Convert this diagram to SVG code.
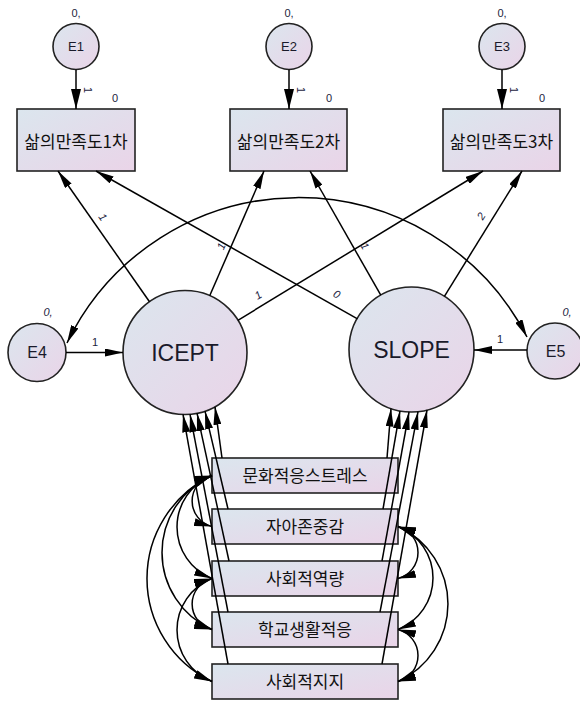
<svg xmlns="http://www.w3.org/2000/svg" width="580" height="703" viewBox="0 0 580 703">
<defs>
<linearGradient id="g" x1="0" y1="0" x2="1" y2="1">
<stop offset="0" stop-color="#dbe6ee"/>
<stop offset="1" stop-color="#ead4e8"/>
</linearGradient>
<marker id="ah" viewBox="0 0 18 8" refX="18" refY="4" markerWidth="18" markerHeight="8" markerUnits="userSpaceOnUse" orient="auto-start-reverse">
<path d="M0,0 L18,4 L0,8 z" fill="#000"/>
</marker>
<marker id="ahL" viewBox="0 0 20 10" refX="20" refY="5" markerWidth="20" markerHeight="10" markerUnits="userSpaceOnUse" orient="auto-start-reverse">
<path d="M0,0 L20,5 L0,10 z" fill="#000"/>
</marker>
</defs>
<style>
.node{fill:url(#g);stroke:#222;stroke-width:1.6}
.t{font-family:"Liberation Sans",Arial,sans-serif;fill:#1a1a2a;text-anchor:middle}
.lbl{font-family:"Liberation Sans",Arial,sans-serif;font-size:11px;fill:#1c2340;text-anchor:middle}
.it{font-style:italic}
.kr{font-family:"Noto Sans CJK KR","Noto Sans CJK SC",sans-serif;font-size:17px;fill:#111;text-anchor:middle}
.c{fill:none;stroke:#000;stroke-width:1.5}
.a{marker-end:url(#ah)}
.aL{marker-end:url(#ahL)}
.cov{marker-start:url(#ah);marker-end:url(#ah)}
</style>

<g id="E1"><circle class="node" cx="76" cy="46.5" r="23"/><text class="t" x="76" y="51" font-size="13">E1</text><text class="lbl" x="76" y="16.5">0,</text></g>
<g id="E2"><circle class="node" cx="289" cy="46.5" r="23"/><text class="t" x="289" y="51" font-size="13">E2</text><text class="lbl" x="289" y="16.5">0,</text></g>
<g id="E3"><circle class="node" cx="502" cy="46.5" r="23"/><text class="t" x="502" y="51" font-size="13">E3</text><text class="lbl" x="502" y="16.5">0,</text></g>

<g id="Y1"><rect class="node" x="17" y="109" width="118" height="62"/><text class="kr" x="76" y="148">삶의만족도1차</text><text class="lbl" x="115" y="102">0</text></g>
<g id="Y2"><rect class="node" x="230" y="109" width="117" height="62"/><text class="kr" x="288.5" y="148">삶의만족도2차</text><text class="lbl" x="329" y="102">0</text></g>
<g id="Y3"><rect class="node" x="443" y="109" width="117" height="62"/><text class="kr" x="501.5" y="148">삶의만족도3차</text><text class="lbl" x="542" y="102">0</text></g>

<g id="E4"><circle class="node" cx="37" cy="352.5" r="29"/><text class="t" x="37" y="358" font-size="16">E4</text><text class="lbl it" x="48" y="316">0,</text></g>
<g id="E5"><circle class="node" cx="555" cy="351" r="28"/><text class="t" x="555.5" y="356.5" font-size="16">E5</text><text class="lbl it" x="567" y="316">0,</text></g>

<g id="ICEPT"><circle class="node" cx="185" cy="352.5" r="62"/><text class="t" x="185" y="361" font-size="23">ICEPT</text></g>
<g id="SLOPE"><circle class="node" cx="411.5" cy="349.5" r="62.5"/><text class="t" x="411.5" y="358" font-size="23">SLOPE</text></g>

<g id="X1"><rect class="node" x="212" y="458" width="186" height="35"/><text class="kr" x="305" y="481.5">문화적응스트레스</text></g>
<g id="X2"><rect class="node" x="212" y="509" width="186" height="35"/><text class="kr" x="305" y="532.5">자아존중감</text></g>
<g id="X3"><rect class="node" x="212" y="561" width="186" height="35"/><text class="kr" x="305" y="584.5">사회적역량</text></g>
<g id="X4"><rect class="node" x="212" y="612" width="186" height="35"/><text class="kr" x="305" y="635.5">학교생활적응</text></g>
<g id="X5"><rect class="node" x="212" y="664" width="186" height="35"/><text class="kr" x="305" y="687.5">사회적지지</text></g>

<g id="connectors">
<path class="c aL" d="M76,69.5 L76,109"/>
<path class="c aL" d="M289,69.5 L289,109"/>
<path class="c aL" d="M502,69.5 L502,109"/>
<path class="c a" d="M66,352.5 L123,352.5"/>
<path class="c a" d="M527,350 L474,350"/>
<path class="c a" d="M149.5,301.7 L58,171"/>
<path class="c a" d="M209.7,295.7 L264,171"/>
<path class="c a" d="M237.9,320.3 L483,171"/>
<path class="c a" d="M357.5,318.9 L96,171"/>
<path class="c a" d="M380.8,295.2 L310,171"/>
<path class="c a" d="M444.4,296.3 L522,171"/>
<path class="c cov" d="M67,343 A257,257 0 0 1 527,337"/>

<path class="c a" d="M222,458 L215,406.8"/>
<path class="c a" d="M228,509 L205,411.2"/>
<path class="c a" d="M229,561 L197,413.2"/>
<path class="c a" d="M228,612 L190,414.3"/>
<path class="c a" d="M228,664 L183,414.4"/>

<path class="c a" d="M387,458 L391,408.5"/>
<path class="c a" d="M383,509 L400,410.9"/>
<path class="c a" d="M382,561 L409,412"/>
<path class="c a" d="M380,612 L418,411.7"/>
<path class="c a" d="M382,664 L427,410"/>

<path class="c cov" d="M212,475.5 A26.3,26.3 0 0 0 212,526.5"/>
<path class="c cov" d="M212,475.5 A55.4,55.4 0 0 0 212,578.5"/>
<path class="c cov" d="M212,475.5 A84.3,84.3 0 0 0 212,629.5"/>
<path class="c cov" d="M212,475.5 A114.1,114.1 0 0 0 212,681.5"/>
<path class="c cov" d="M212,578.5 A26.3,26.3 0 0 0 212,629.5"/>
<path class="c cov" d="M212,578.5 A55.4,55.4 0 0 0 212,681.5"/>

<path class="c cov" d="M398,526.5 A26.9,26.9 0 0 1 398,578.5"/>
<path class="c cov" d="M398,526.5 A55.4,55.4 0 0 1 398,629.5"/>
<path class="c cov" d="M398,526.5 A85.1,85.1 0 0 1 398,681.5"/>
<path class="c cov" d="M398,629.5 A26.9,26.9 0 0 1 398,681.5"/>

<text class="lbl" transform="translate(88,90) rotate(90)" x="0" y="4">1</text>
<text class="lbl" transform="translate(301,90) rotate(90)" x="0" y="4">1</text>
<text class="lbl" transform="translate(514,90) rotate(90)" x="0" y="4">1</text>
<text class="lbl" x="95" y="346">1</text>
<text class="lbl" x="500" y="343">1</text>
<text class="lbl it" transform="translate(103,217) rotate(55.5)" x="0" y="4">1</text>
<text class="lbl it" transform="translate(221,246) rotate(-66.6)" x="0" y="4">1</text>
<text class="lbl it" transform="translate(258,295) rotate(-31.3)" x="0" y="4">1</text>
<text class="lbl it" transform="translate(337,294) rotate(29.5)" x="0" y="4">0</text>
<text class="lbl it" transform="translate(365,246) rotate(60.3)" x="0" y="4">1</text>
<text class="lbl it" transform="translate(481,216) rotate(-58.2)" x="0" y="4">2</text>
</g>
</svg>
